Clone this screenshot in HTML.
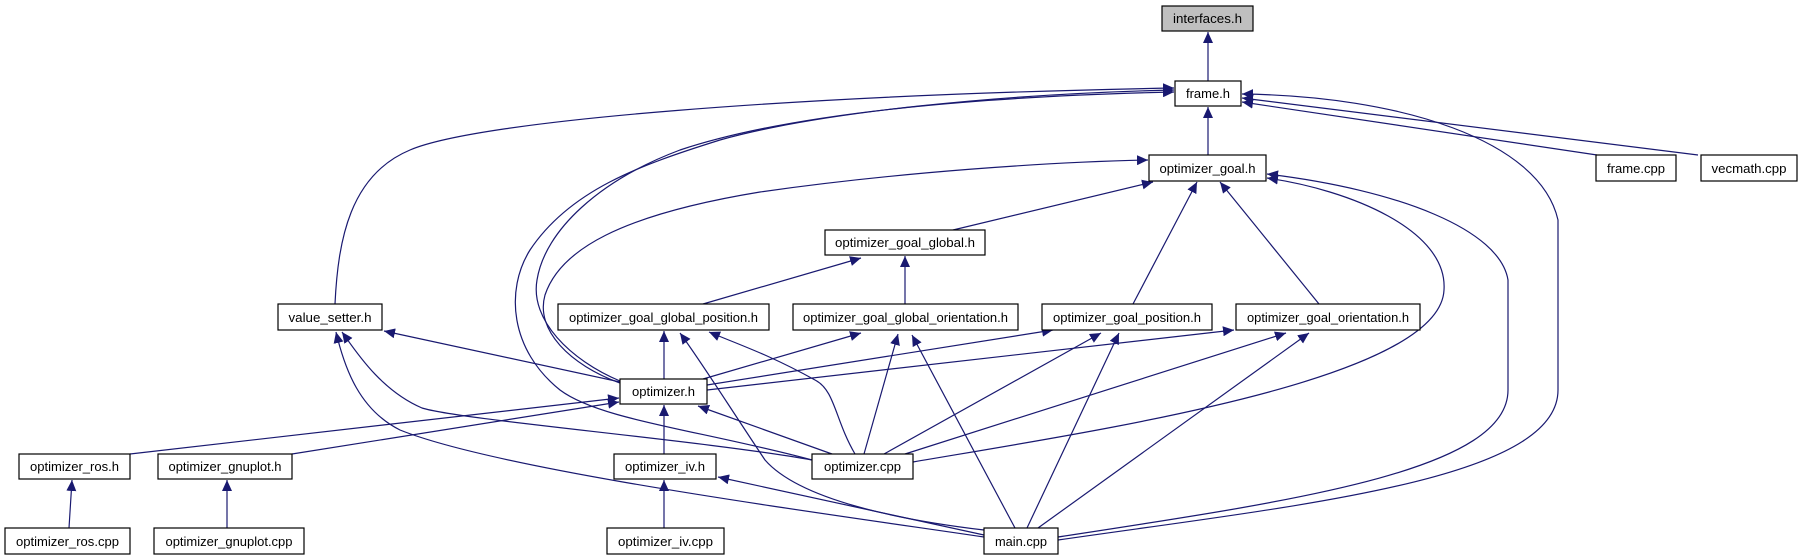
<!DOCTYPE html>
<html><head><meta charset="utf-8"><style>
html,body{margin:0;padding:0;background:#fff;}
svg{display:block;}
text{font-family:"Liberation Sans",Arial,sans-serif;font-size:13px;fill:#000;}
</style></head><body>
<svg width="1803" height="560" viewBox="0 0 1803 560" xmlns="http://www.w3.org/2000/svg">
<defs>
<marker id="a" markerWidth="12" markerHeight="10" refX="11" refY="5" orient="auto" markerUnits="userSpaceOnUse">
<path d="M0,0 L11,5 L0,10 Z" fill="#191970"/>
</marker>
</defs>
<g fill="none" stroke="#191970" stroke-width="1.2" marker-end="url(#a)">
<path d="M1208,81 L1208,32"/>
<path d="M1208,155 L1208,107"/>
<path d="M335,304 C338,240 350,175 410,150 C480,120 800,95 1174,88"/>
<path d="M812,460 C700,430 600,420 560,390 C510,350 505,290 530,250 C570,190 640,165 720,140 C820,112 1000,94 1174,90"/>
<path d="M620,381 C570,360 530,320 537,280 C545,230 600,180 680,150 C800,110 1000,96 1174,92"/>
<path d="M620,383 C570,365 535,330 545,295 C560,250 620,215 760,192 C900,172 1050,162 1148,160"/>
<path d="M953,230 L1153,182"/>
<path d="M703,304 L861,258"/>
<path d="M905,304 L905,256"/>
<path d="M1133,304 L1197,182"/>
<path d="M1319,304 L1220,182"/>
<path d="M620,382 L384,331"/>
<path d="M664,379 L664,331"/>
<path d="M703,379 L861,333"/>
<path d="M707,385 L1053,330"/>
<path d="M707,390 L1234,330"/>
<path d="M130,454 L619,398"/>
<path d="M292,454 L619,402"/>
<path d="M664,454 L664,405"/>
<path d="M832,454 L698,406"/>
<path d="M812,460 C700,440 460,420 422,408 C380,390 355,350 342,332"/>
<path d="M855,454 C835,420 835,390 815,380 C770,355 740,345 709,332"/>
<path d="M864,454 L898,334"/>
<path d="M884,454 L1101,333"/>
<path d="M905,454 L1286,333"/>
<path d="M913,462 C1100,430 1440,380 1444,290 C1448,230 1350,190 1267,178"/>
<path d="M69,528 L72,480"/>
<path d="M227,528 L227,480"/>
<path d="M664,528 L664,480"/>
<path d="M984,537 C800,510 500,470 400,430 C360,410 345,370 336,332"/>
<path d="M984,535 L718,477"/>
<path d="M984,530 C900,520 800,500 765,460 C725,400 700,360 680,333"/>
<path d="M1015,528 L912,335"/>
<path d="M1027,528 L1119,333"/>
<path d="M1038,528 L1309,333"/>
<path d="M1058,537 C1300,500 1508,470 1508,390 L1508,280 C1500,230 1400,190 1267,174"/>
<path d="M1058,540 C1300,505 1558,480 1558,390 L1558,220 C1540,140 1400,96 1242,94"/>
<path d="M1597,155 L1242,102"/>
<path d="M1698,155 L1242,98"/>
</g>
<g stroke="#000" stroke-width="1.2">
<rect x="1162" y="6" width="91" height="25" fill="#bfbfbf"/>
<rect x="1175" y="81" width="66" height="25" fill="#fff"/>
<rect x="1149" y="155" width="117" height="26" fill="#fff"/>
<rect x="1596" y="155" width="80" height="26" fill="#fff"/>
<rect x="1701" y="155" width="96" height="26" fill="#fff"/>
<rect x="825" y="230" width="160" height="25" fill="#fff"/>
<rect x="278" y="304" width="104" height="26" fill="#fff"/>
<rect x="558" y="304" width="211" height="26" fill="#fff"/>
<rect x="793" y="304" width="225" height="26" fill="#fff"/>
<rect x="1042" y="304" width="170" height="26" fill="#fff"/>
<rect x="1236" y="304" width="184" height="26" fill="#fff"/>
<rect x="620" y="379" width="87" height="25" fill="#fff"/>
<rect x="19" y="454" width="111" height="25" fill="#fff"/>
<rect x="158" y="454" width="134" height="25" fill="#fff"/>
<rect x="614" y="454" width="102" height="25" fill="#fff"/>
<rect x="812" y="454" width="101" height="25" fill="#fff"/>
<rect x="5" y="528" width="125" height="26" fill="#fff"/>
<rect x="154" y="528" width="150" height="26" fill="#fff"/>
<rect x="607" y="528" width="117" height="26" fill="#fff"/>
<rect x="984" y="528" width="74" height="26" fill="#fff"/>
</g>
<g text-anchor="middle">
<text x="1207.5" y="23" textLength="69" lengthAdjust="spacingAndGlyphs">interfaces.h</text>
<text x="1208" y="98" textLength="44" lengthAdjust="spacingAndGlyphs">frame.h</text>
<text x="1207.5" y="173" textLength="96" lengthAdjust="spacingAndGlyphs">optimizer_goal.h</text>
<text x="1636" y="173" textLength="58" lengthAdjust="spacingAndGlyphs">frame.cpp</text>
<text x="1749" y="173" textLength="75" lengthAdjust="spacingAndGlyphs">vecmath.cpp</text>
<text x="905" y="247" textLength="140" lengthAdjust="spacingAndGlyphs">optimizer_goal_global.h</text>
<text x="330" y="322" textLength="83" lengthAdjust="spacingAndGlyphs">value_setter.h</text>
<text x="663.5" y="322" textLength="189" lengthAdjust="spacingAndGlyphs">optimizer_goal_global_position.h</text>
<text x="905.5" y="322" textLength="205" lengthAdjust="spacingAndGlyphs">optimizer_goal_global_orientation.h</text>
<text x="1127" y="322" textLength="148" lengthAdjust="spacingAndGlyphs">optimizer_goal_position.h</text>
<text x="1328" y="322" textLength="162" lengthAdjust="spacingAndGlyphs">optimizer_goal_orientation.h</text>
<text x="663.5" y="396" textLength="63" lengthAdjust="spacingAndGlyphs">optimizer.h</text>
<text x="74.5" y="471" textLength="89" lengthAdjust="spacingAndGlyphs">optimizer_ros.h</text>
<text x="225" y="471" textLength="113" lengthAdjust="spacingAndGlyphs">optimizer_gnuplot.h</text>
<text x="665" y="471" textLength="80" lengthAdjust="spacingAndGlyphs">optimizer_iv.h</text>
<text x="862.5" y="471" textLength="77" lengthAdjust="spacingAndGlyphs">optimizer.cpp</text>
<text x="67.5" y="546" textLength="103" lengthAdjust="spacingAndGlyphs">optimizer_ros.cpp</text>
<text x="229" y="546" textLength="127" lengthAdjust="spacingAndGlyphs">optimizer_gnuplot.cpp</text>
<text x="665.5" y="546" textLength="95" lengthAdjust="spacingAndGlyphs">optimizer_iv.cpp</text>
<text x="1021" y="546" textLength="52" lengthAdjust="spacingAndGlyphs">main.cpp</text>
</g>
</svg>
</body></html>
